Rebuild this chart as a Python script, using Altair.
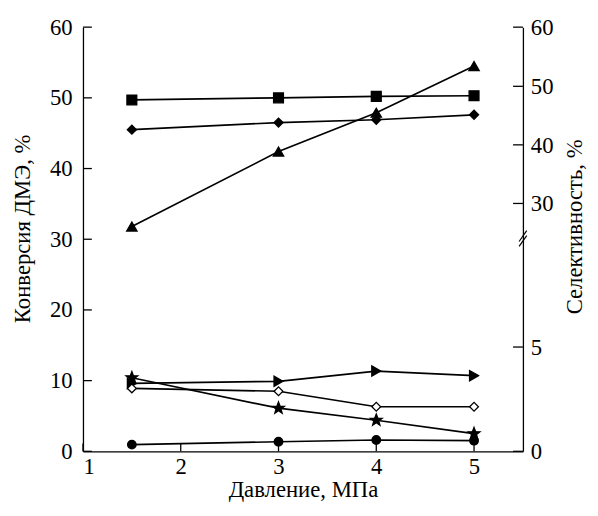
import math
import altair as alt
import pandas as pd

# ---- data (values as plotted against the left 0-60 scale) ----
pressure = [1.5, 3, 4, 5]
series_names = ["square", "diamond", "triangle", "arrow", "open_diamond", "star", "circle"]
squares = [49.7, 50.0, 50.2, 50.3]
diamonds = [45.5, 46.5, 46.9, 47.6]
triangles = [31.8, 42.4, 47.9, 54.5]
arrows = [9.6, 9.9, 11.35, 10.7]
open_diamonds = [8.9, 8.5, 6.3, 6.3]
stars = [10.4, 6.1, 4.4, 2.5]
circles = [0.95, 1.35, 1.6, 1.5]

x_ticks = [1, 2, 3, 4, 5]
left_ticks = [0, 10, 20, 30, 40, 50, 60]
right_tick_pos = [0, 14.75, 35.06, 43.35, 51.63, 60]
right_tick_labels = ["0", "5", "30", "40", "50", "60"]
break_pos = [30.1]

# five-pointed star symbol path (unit coordinates)
_pts = []
for i in range(10):
    r = 1.0 if i % 2 == 0 else 0.42
    a = math.radians(-90 + 36 * i)
    _pts.append(f"{r * math.cos(a):.3f},{r * math.sin(a):.3f}")
STAR = "M" + "L".join(_pts) + "Z"

styles = {
    "square": ("square", "black", 100),
    "diamond": ("diamond", "black", 85),
    "triangle": ("triangle-up", "black", 110),
    "arrow": ("triangle-right", "black", 110),
    "open_diamond": ("diamond", "white", 80),
    "star": (STAR, "black", 160),
    "circle": ("circle", "black", 75),
}

all_series = [squares, diamonds, triangles, arrows, open_diamonds, stars, circles]
rows = []
for name, vals in zip(series_names, all_series):
    for p, v in zip(pressure, vals):
        rows.append({"p": p, "v": v, "series": name})
df = pd.DataFrame(rows)

FONT = "Liberation Serif, Times New Roman, Liberation Sans, Arial, sans-serif"
W, H = 446, 430
xscale = alt.Scale(domain=[1, 5.5], nice=False, zero=False)
yscale = alt.Scale(domain=[0, 60], nice=False, zero=False)

base = alt.Chart(df)

lines = base.mark_line(color="black", strokeWidth=1.7).encode(
    x=alt.X("p:Q", scale=xscale,
            axis=alt.Axis(values=x_ticks, title="Давление, МПа", format="d",
                          labelPadding=5, titleBaseline="alphabetic",
                          titleY=46, titleX=W / 2, titleAlign="center")),
    y=alt.Y("v:Q", scale=yscale,
            axis=alt.Axis(values=left_ticks, title="Конверсия ДМЭ, %",
                          labelPadding=11, titleAngle=270, titleBaseline="alphabetic",
                          titleX=-54, titleY=204, titleAlign="center")),
    detail="series:N",
)

point_layers = []
for name in series_names:
    shp, fill, size = styles[name]
    point_layers.append(
        base.transform_filter(alt.datum.series == name).mark_point(
            shape=shp, fill=fill, filled=True, stroke="black", strokeWidth=1.3,
            size=size, opacity=1,
        ).encode(
            x=alt.X("p:Q", scale=xscale),
            y=alt.Y("v:Q", scale=yscale),
        )
    )

left_tick_df = pd.DataFrame({"v": left_ticks})
left_tick_layer = alt.Chart(left_tick_df).mark_rule(color="black", strokeWidth=1.3).encode(
    y=alt.Y("v:Q", scale=yscale),
    x=alt.value(0), x2=alt.value(9),
)

x_tick_df = pd.DataFrame({"p": x_ticks})
x_tick_layer = alt.Chart(x_tick_df).mark_rule(color="black", strokeWidth=1.3).encode(
    x=alt.X("p:Q", scale=xscale),
    y=alt.value(H), y2=alt.value(H - 8),
)

right_df = pd.DataFrame({"v": right_tick_pos, "lab": right_tick_labels})
right_tick_layer = alt.Chart(right_df).mark_rule(color="black", strokeWidth=1.3).encode(
    y=alt.Y("v:Q", scale=yscale),
    x=alt.value(W - 10), x2=alt.value(W),
)
right_label_layer = alt.Chart(right_df).mark_text(
    font=FONT, fontSize=23, align="left", baseline="middle", color="black", dx=8, dy=1,
).encode(
    y=alt.Y("v:Q", scale=yscale),
    x=alt.value(W),
    text="lab:N",
)

break_df = pd.DataFrame({"p": [5.5], "v": break_pos})
break_layers = [
    alt.Chart(break_df).mark_point(
        shape="stroke", size=180, angle=305, filled=False, stroke="black",
        strokeWidth=1.2, opacity=1, yOffset=dy,
    ).encode(
        x=alt.X("p:Q", scale=xscale),
        y=alt.Y("v:Q", scale=yscale),
    )
    for dy in (-2.5, 2.5)
]

main = alt.layer(lines, *point_layers, left_tick_layer, x_tick_layer,
                 right_tick_layer, right_label_layer, *break_layers)

right_axis = alt.Chart(right_df).mark_rule(opacity=0).encode(
    y=alt.Y("v:Q", scale=yscale,
            axis=alt.Axis(orient="right", values=right_tick_pos, labels=False,
                          title="Селективность, %", titleAngle=270,
                          titleBaseline="alphabetic", titleX=59, titleY=202,
                          titleAlign="center")),
)

chart = alt.layer(main, right_axis).resolve_scale(y="independent").properties(
    width=W, height=H,
    padding={"left": 76, "top": 16, "right": 68, "bottom": 50},
    autosize=alt.AutoSizeParams(type="none"),
).configure_axis(
    labelFont=FONT, labelFontSize=23, labelColor="black",
    titleFont=FONT, titleFontSize=23, titleFontWeight="normal", titleColor="black",
    domainColor="black", domainWidth=1.3, grid=False, ticks=False,
).configure_view(stroke=None)

chart.save("out.html", embed_options={"renderer": "svg", "actions": False})
